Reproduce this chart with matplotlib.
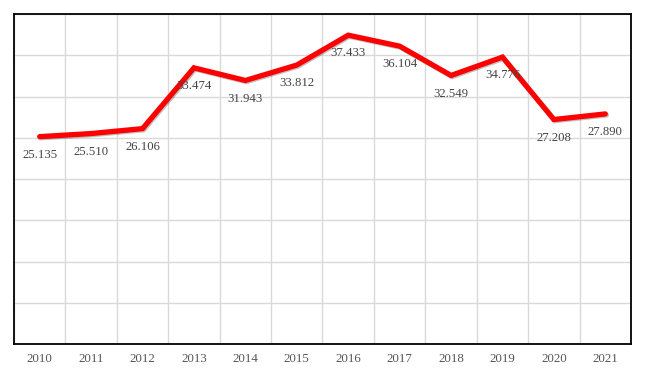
import matplotlib
matplotlib.use("Agg")
import matplotlib.pyplot as plt
import matplotlib.patheffects as pe
import numpy as np

years = ['2010', '2011', '2012', '2013', '2014', '2015',
         '2016', '2017', '2018', '2019', '2020', '2021']
values = [25.135, 25.510, 26.106, 33.474, 31.943, 33.812,
          37.433, 36.104, 32.549, 34.776, 27.208, 27.890]

plt.rcParams['font.family'] = ['Liberation Serif', 'DejaVu Serif']

fig = plt.figure(figsize=(6.45, 3.74), dpi=100)
ax = fig.add_axes([14 / 645, 1 - 344 / 374, 617 / 645, 330 / 374])

x = np.arange(len(years))
ax.plot(x, values, color='#ff0000', linewidth=3.8, solid_capstyle='round',
        solid_joinstyle='miter',
        path_effects=[pe.SimpleLineShadow(offset=(0.8, -0.8), shadow_color='#000000', alpha=0.25),
                      pe.Normal()], zorder=3)

# value labels under each point
for xi, v in zip(x, values):
    ax.annotate(f'{v:.3f}', (xi, v), xytext=(0, -13), textcoords='offset points',
                ha='center', va='center', fontsize=9.2, color='#444444', zorder=4)

ax.set_xlim(-0.5, len(years) - 0.5)
ax.set_ylim(0, 40)
ax.set_yticks(np.arange(0, 41, 5))
ax.set_yticklabels([])
ax.set_xticks(x)
ax.set_xticklabels(years, fontsize=9.3, color='#555555')
ax.set_xticks(np.arange(-0.5, len(years), 1), minor=True)
ax.tick_params(axis='both', which='both', length=0)
ax.tick_params(axis='x', pad=6.5)
ax.grid(True, axis='y', which='major', color='#d9d9d9', linewidth=1)
ax.grid(True, axis='x', which='minor', color='#d9d9d9', linewidth=1)
ax.set_axisbelow(True)
for s in ax.spines.values():
    s.set_color('#000000')
    s.set_linewidth(1.3)

fig.savefig('out.png', dpi=100)
